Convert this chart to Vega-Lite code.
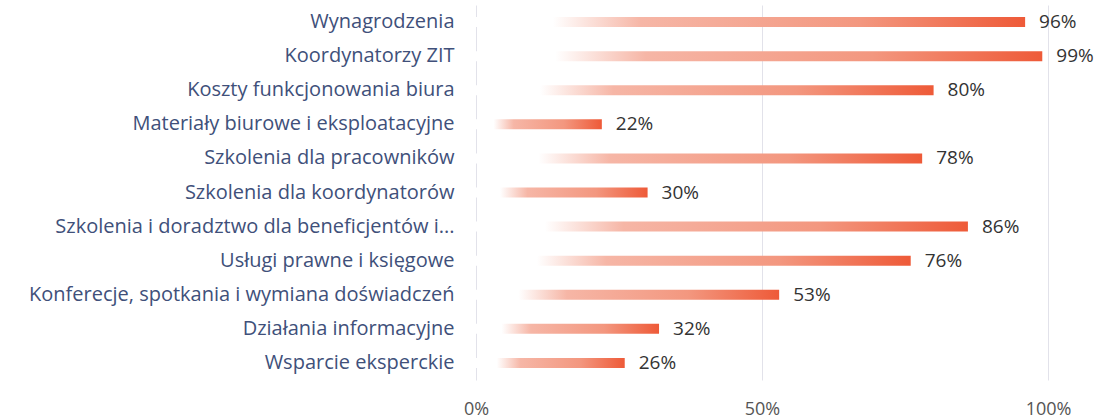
{
  "$schema": "https://vega.github.io/schema/vega-lite/v6.json",
  "autosize": "none",
  "width": 572,
  "height": 375,
  "padding": {"left": 476, "top": 5, "right": 50, "bottom": 39},
  "background": "white",
  "config": {"view": {"stroke": null}, "font": "Open Sans"},
  "data": {"values": [
    {"kategoria": "Wynagrodzenia", "udzial": 0.96},
    {"kategoria": "Koordynatorzy ZIT", "udzial": 0.99},
    {"kategoria": "Koszty funkcjonowania biura", "udzial": 0.80},
    {"kategoria": "Materiały biurowe i eksploatacyjne", "udzial": 0.22},
    {"kategoria": "Szkolenia dla pracowników", "udzial": 0.78},
    {"kategoria": "Szkolenia dla koordynatorów", "udzial": 0.30},
    {"kategoria": "Szkolenia i doradztwo dla beneficjentów i...", "udzial": 0.86},
    {"kategoria": "Usługi prawne i księgowe", "udzial": 0.76},
    {"kategoria": "Konferecje, spotkania i wymiana doświadczeń", "udzial": 0.53},
    {"kategoria": "Działania informacyjne", "udzial": 0.32},
    {"kategoria": "Wsparcie eksperckie", "udzial": 0.26}
  ]},
  "encoding": {
    "y": {"field": "kategoria", "type": "nominal", "sort": null, "title": null,
      "axis": {"ticks": false, "domain": false, "labelPadding": 22, "labelFontSize": 20, "labelColor": "#40507a", "labelLimit": 480, "labelFont": "Open Sans"}},
    "x": {"field": "udzial", "type": "quantitative", "scale": {"domain": [0, 1], "nice": false}, "title": null,
      "axis": {"values": [0, 0.5, 1], "format": "%", "ticks": false, "domain": false, "grid": true, "gridColor": "#e2e2ea", "labelPadding": 20, "labelFontSize": 18, "labelColor": "#555", "labelFlush": false}}
  },
  "layer": [
    {
      "mark": {"type": "bar", "size": 10,
        "color": {"gradient": "linear", "x1": 0, "y1": 0, "x2": 1, "y2": 0,
          "stops": [
            {"offset": 0, "color": "#ffffff"},
            {"offset": 0.14, "color": "#ffffff"},
            {"offset": 0.3, "color": "#f6b6a6"},
            {"offset": 0.7, "color": "#f3977f"},
            {"offset": 1, "color": "#ee5a38"}
          ]}}
    },
    {
      "mark": {"type": "text", "align": "left", "baseline": "middle", "dx": 14, "fontSize": 19, "color": "#333333", "font": "Open Sans"},
      "encoding": {"text": {"field": "udzial", "type": "quantitative", "format": ".0%"}}
    }
  ]
}
